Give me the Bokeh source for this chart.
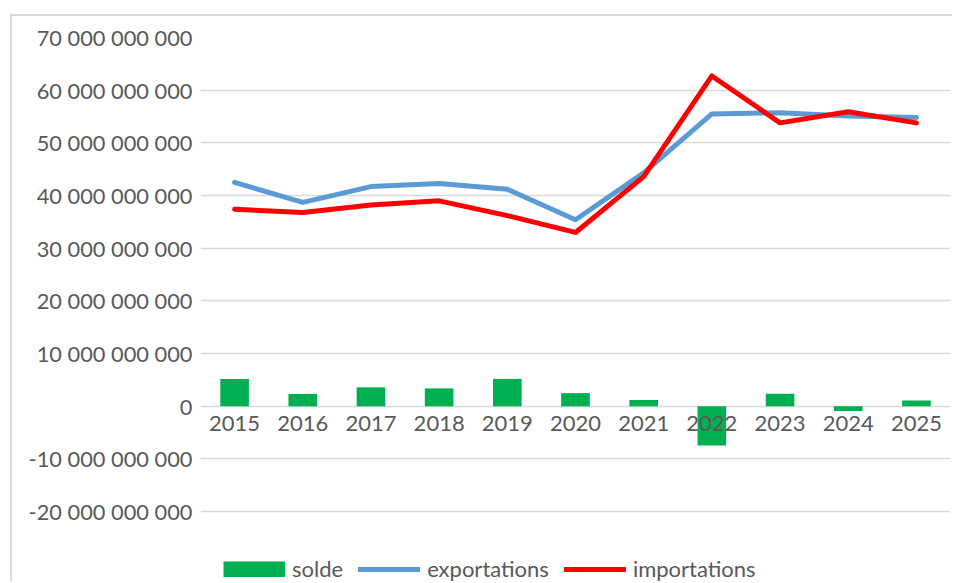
from bokeh.plotting import figure
from bokeh.models import (FactorRange, Range1d, FixedTicker, CustomJSTickFormatter,
                          Legend, LegendItem, ColumnDataSource)
from bokeh.core.properties import value
from bokeh.embed import file_html
from bokeh.resources import INLINE

years = ["2015", "2016", "2017", "2018", "2019", "2020", "2021", "2022", "2023", "2024", "2025"]
exportations = [42.5e9, 38.7e9, 41.7e9, 42.3e9, 41.2e9, 35.4e9, 44.3e9, 55.5e9, 55.7e9, 55.1e9, 54.8e9]
importations = [37.4e9, 36.8e9, 38.2e9, 39.0e9, 36.2e9, 33.0e9, 43.6e9, 62.7e9, 53.8e9, 55.9e9, 53.8e9]
solde = [5.2e9, 2.35e9, 3.6e9, 3.4e9, 5.2e9, 2.5e9, 1.2e9, -7.45e9, 2.4e9, -0.9e9, 1.1e9]
y_ticks = [-20e9, -10e9, 0, 10e9, 20e9, 30e9, 40e9, 50e9, 60e9, 70e9]

FONT = "Lato"
TXT = "#595959"
GRID = "#d9d9d9"
GREEN = "#00b050"

src = ColumnDataSource(dict(year=years, exp=exportations, imp=importations,
                            solde=solde, zero=[0] * len(years)))

# frame extends to the bottom of the chart so the legend can sit inside it
p = figure(width=942, height=567, output_backend="svg", toolbar_location=None,
           x_range=FactorRange(*years, range_padding=0),
           y_range=Range1d(-33.63e9, 70e9), x_axis_location=None,
           min_border_left=188, min_border_right=4, min_border_top=21,
           min_border_bottom=0)
p.styles = {"margin-left": "10px", "margin-top": "14px",
            "border-left": "2px solid #d9d9d9", "border-top": "2px solid #d9d9d9"}
p.outline_line_color = None
p.background_fill_color = "white"
p.border_fill_color = "white"

yaxis = p.yaxis[0]
yaxis.ticker = FixedTicker(ticks=y_ticks)
yaxis.formatter = CustomJSTickFormatter(
    code="return tick.toFixed(0).replace(/\\B(?=(\\d{3})+(?!\\d))/g, ' ');")
yaxis.axis_line_color = None
yaxis.major_tick_line_color = None
yaxis.minor_tick_line_color = None
yaxis.major_label_text_font = FONT
yaxis.major_label_text_font_size = "21.8px"
yaxis.major_label_text_color = TXT
yaxis.major_label_standoff = 2

p.xgrid.grid_line_color = None
p.ygrid.ticker = FixedTicker(ticks=y_ticks)
p.ygrid.grid_line_color = GRID
p.ygrid.grid_line_width = 1.3

bars = p.vbar(x="year", top="solde", width=0.42, source=src,
              fill_color=GREEN, line_color=None)

p.text(x="year", y="zero", text="year", source=src, text_align="center",
       text_baseline="top", y_offset=10, text_font=value(FONT),
       text_font_size="22px", text_color=TXT)

l_exp = p.line(x="year", y="exp", source=src, line_color="#5b9bd5",
               line_width=5, line_join="round", line_cap="round")
l_imp = p.line(x="year", y="imp", source=src, line_color="#ff0000",
               line_width=5, line_join="round", line_cap="round")

# legend key for the bars: a thick flat stroke (no visible data) gives a full-size swatch
nan = float("nan")
solde_key = p.line(x=[years[0], years[0]], y=[nan, nan], line_color=GREEN,
                   line_width=16, line_cap="butt")

legend = Legend(items=[LegendItem(label="solde", renderers=[solde_key]),
                       LegendItem(label="exportations", renderers=[l_exp]),
                       LegendItem(label="importations", renderers=[l_imp])],
                orientation="horizontal", location=(23, 1),
                glyph_width=62, glyph_height=16, label_standoff=7, spacing=15,
                padding=0, margin=0, border_line_alpha=0, background_fill_alpha=0,
                label_text_font=FONT, label_text_font_size="22px",
                label_text_color=TXT)
p.add_layout(legend, "center")

open("out.html", "w").write(file_html(p, INLINE))
